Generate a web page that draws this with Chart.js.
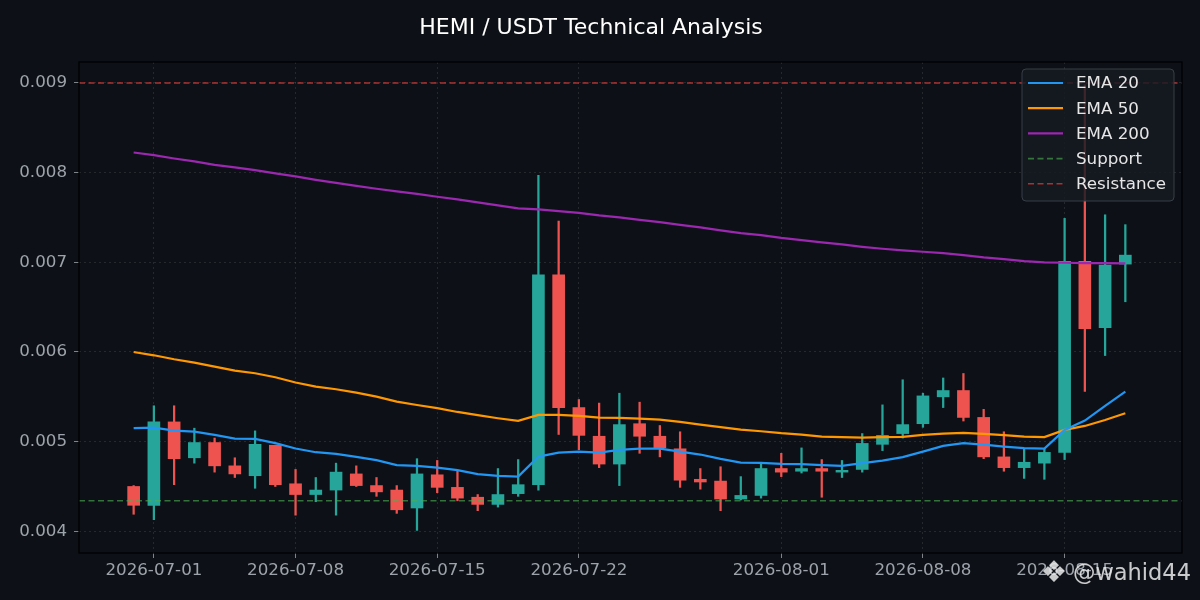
<!DOCTYPE html>
<html>
<head>
<meta charset="utf-8">
<script src="https://cdn.jsdelivr.net/npm/chart.js@4.4.1/dist/chart.umd.min.js"></script>
<style>
  html, body { margin: 0; padding: 0; background: #0d1117; }
  #chart { display: block; }
</style>
</head>
<body>
<canvas id="chart" width="1200" height="600"></canvas>
<script>
// daily candles, HEMI/USDT
const dates = [
  '2026-06-30','2026-07-01','2026-07-02','2026-07-03','2026-07-04','2026-07-05','2026-07-06','2026-07-07',
  '2026-07-08','2026-07-09','2026-07-10','2026-07-11','2026-07-12','2026-07-13','2026-07-14','2026-07-15',
  '2026-07-16','2026-07-17','2026-07-18','2026-07-19','2026-07-20','2026-07-21','2026-07-22','2026-07-23',
  '2026-07-24','2026-07-25','2026-07-26','2026-07-27','2026-07-28','2026-07-29','2026-07-30','2026-07-31',
  '2026-08-01','2026-08-02','2026-08-03','2026-08-04','2026-08-05','2026-08-06','2026-08-07','2026-08-08',
  '2026-08-09','2026-08-10','2026-08-11','2026-08-12','2026-08-13','2026-08-14','2026-08-15','2026-08-16',
  '2026-08-17','2026-08-18'
];
const opens = [
  0.00450,0.00429,0.00522,0.00482,0.00499,0.00473,0.00462,0.00496,0.00453,0.00441,
  0.00446,0.00464,0.00451,0.00446,0.00426,0.00463,0.00449,0.00438,0.00430,0.00442,
  0.00452,0.00686,0.00538,0.00506,0.00475,0.00520,0.00506,0.00492,0.00458,0.00456,
  0.00436,0.00440,0.00470,0.00467,0.00470,0.00466,0.00469,0.00497,0.00509,0.00520,
  0.00550,0.00557,0.00527,0.00483,0.00471,0.00476,0.00488,0.00701,0.00627,0.00698
];
const highs = [
  0.00451,0.00540,0.00540,0.00515,0.00504,0.00482,0.00512,0.00496,0.00469,0.00460,
  0.00476,0.00473,0.00460,0.00451,0.00481,0.00479,0.00467,0.00441,0.00470,0.00480,
  0.00797,0.00746,0.00547,0.00543,0.00554,0.00544,0.00518,0.00511,0.00470,0.00472,
  0.00461,0.00476,0.00487,0.00493,0.00480,0.00479,0.00509,0.00541,0.00569,0.00554,
  0.00571,0.00576,0.00536,0.00511,0.00492,0.00492,0.00749,0.00898,0.00753,0.00742
];
const lows = [
  0.00419,0.00413,0.00452,0.00476,0.00466,0.00460,0.00448,0.00450,0.00418,0.00433,
  0.00418,0.00450,0.00439,0.00420,0.00401,0.00443,0.00434,0.00423,0.00427,0.00439,
  0.00446,0.00508,0.00491,0.00471,0.00451,0.00487,0.00483,0.00449,0.00447,0.00423,
  0.00435,0.00437,0.00461,0.00465,0.00438,0.00460,0.00466,0.00490,0.00504,0.00516,
  0.00538,0.00523,0.00481,0.00467,0.00459,0.00458,0.00480,0.00556,0.00596,0.00656
];
const closes = [
  0.00429,0.00522,0.00481,0.00499,0.00473,0.00464,0.00497,0.00452,0.00441,0.00446,
  0.00466,0.00451,0.00444,0.00424,0.00464,0.00449,0.00437,0.00430,0.00441,0.00452,
  0.00686,0.00538,0.00507,0.00475,0.00519,0.00506,0.00493,0.00457,0.00455,0.00436,
  0.00440,0.00470,0.00466,0.00470,0.00467,0.00468,0.00498,0.00507,0.00519,0.00551,
  0.00557,0.00527,0.00483,0.00471,0.00477,0.00488,0.00701,0.00626,0.00697,0.00708
];
const ema20 = [
  0.005150,0.005157,0.005123,0.005112,0.005075,0.005034,0.005031,0.004983,0.004923,0.004882,
  0.004864,0.004830,0.004793,0.004738,0.004730,0.004711,0.004682,0.004637,0.004618,0.004611,
  0.004833,0.004878,0.004889,0.004878,0.004908,0.004923,0.004923,0.004889,0.004856,0.004808,
  0.004767,0.004763,0.004752,0.004749,0.004738,0.004730,0.004760,0.004789,0.004827,0.004889,
  0.004953,0.004983,0.004967,0.004945,0.004927,0.004923,0.005131,0.005235,0.005398,0.005558
];
const ema50 = [
  0.006000,0.005963,0.005919,0.005881,0.005836,0.005792,0.005763,0.005718,0.005660,0.005613,
  0.005584,0.005547,0.005502,0.005446,0.005409,0.005373,0.005331,0.005295,0.005261,0.005231,
  0.005298,0.005298,0.005287,0.005268,0.005265,0.005257,0.005246,0.005220,0.005190,0.005161,
  0.005134,0.005116,0.005094,0.005079,0.005056,0.005050,0.005045,0.005050,0.005053,0.005075,
  0.005090,0.005097,0.005086,0.005072,0.005056,0.005050,0.005131,0.005175,0.005242,0.005317
];
const ema200 = [
  0.008225,0.008195,0.008158,0.008125,0.008087,0.008058,0.008028,0.007991,0.007958,0.007920,
  0.007886,0.007853,0.007820,0.007791,0.007764,0.007731,0.007702,0.007668,0.007635,0.007601,
  0.007590,0.007571,0.007552,0.007523,0.007501,0.007474,0.007448,0.007418,0.007389,0.007356,
  0.007326,0.007304,0.007273,0.007248,0.007222,0.007200,0.007173,0.007151,0.007133,0.007118,
  0.007103,0.007081,0.007055,0.007036,0.007014,0.006999,0.006995,0.006992,0.006992,0.006988
];
const support = 0.00434;
const resistance = 0.0090;
const xTickLabels = ['2026-07-01','2026-07-08','2026-07-15','2026-07-22','2026-08-01','2026-08-08','2026-08-15'];
const yTickValues = [0.004, 0.005, 0.006, 0.007, 0.008, 0.009];

const UP = '#26a69a';
const DOWN = '#ef5350';
const TICK_COLOR = '#9da3aa';
const FONT = 'DejaVu Sans';

const X_MIN = -2.7, X_MAX = 51.8;
const Y_MIN = 0.003758, Y_MAX = 0.009234;

let candleColors = closes.map((c, i) => c >= opens[i] ? UP : DOWN);
let idx = dates.map((d, i) => i);

function lineSet(label, values, color) {
  return {
    type: 'line', label: label, order: 0,
    data: idx.map(i => ({x: i, y: values[i]})),
    borderColor: color, backgroundColor: color,
    borderWidth: 2.2, pointRadius: 0, tension: 0
  };
}
function levelSet(label, value, color) {
  return {
    type: 'line', label: label, order: 1,
    data: [{x: X_MIN, y: value}, {x: X_MAX, y: value}],
    borderColor: color, backgroundColor: color,
    borderWidth: 1.6, borderDash: [6, 3.5], pointRadius: 0
  };
}

// legend drawn by hand so it gets the dark box like the original
const legendBox = {
  id: 'legendBox',
  afterDatasetsDraw(chart) {
    const ctx = chart.ctx, area = chart.chartArea;
    const items = chart.data.datasets.filter(d => d.label);
    const w = 152, h = 132;
    const left = area.right - 8 - w, top = area.top + 7;
    ctx.save();
    ctx.beginPath();
    ctx.roundRect(left, top, w, h, 4);
    ctx.fillStyle = 'rgba(22,27,34,0.82)';
    ctx.fill();
    ctx.strokeStyle = 'rgba(60,66,74,0.9)';
    ctx.lineWidth = 1;
    ctx.stroke();
    ctx.font = '16.7px "' + FONT + '"';
    ctx.textBaseline = 'middle';
    items.forEach((d, k) => {
      const y = top + 14 + k * 25.2;
      ctx.beginPath();
      ctx.setLineDash(d.borderDash || []);
      ctx.strokeStyle = d.borderColor;
      ctx.lineWidth = d.borderDash ? 1.6 : 2.2;
      ctx.moveTo(left + 6, y);
      ctx.lineTo(left + 41, y);
      ctx.stroke();
      ctx.setLineDash([]);
      ctx.fillStyle = '#e6e6e6';
      ctx.fillText(d.label, left + 54, y + 1);
    });
    ctx.restore();
  },
  afterDraw(chart) {
    const ctx = chart.ctx, area = chart.chartArea;
    ctx.save();
    ctx.strokeStyle = '#000';
    ctx.lineWidth = 1.3;
    ctx.strokeRect(area.left, area.top, area.right - area.left, area.bottom - area.top);
    // watermark
    ctx.fillStyle = 'rgba(235,235,235,0.85)';
    ctx.textBaseline = 'middle';
    ctx.textAlign = 'right';
    ctx.font = '22.5px "' + FONT + '"';
    ctx.fillText('@wahid44', 1191, 574);
    ctx.textAlign = 'center';
    ctx.font = '30px "' + FONT + '"';
    ctx.fillText('\u2756', 1054, 574);
    ctx.restore();
  }
};

let ctx = document.getElementById('chart').getContext('2d');
let myChart = new Chart(ctx, {
  type: 'bar',
  data: {
    datasets: [
      lineSet('EMA 20', ema20, '#2196f3'),
      lineSet('EMA 50', ema50, '#ff9800'),
      lineSet('EMA 200', ema200, '#9c27b0'),
      levelSet('Support', support, 'rgba(76,175,80,0.62)'),
      levelSet('Resistance', resistance, 'rgba(229,57,53,0.75)'),
      {
        type: 'bar', order: 2, grouped: false,
        data: idx.map(i => ({x: i, y: [opens[i], closes[i]]})),
        backgroundColor: candleColors, barThickness: 12, minBarLength: 1.5, borderWidth: 0
      },
      {
        type: 'bar', order: 3, grouped: false,
        data: idx.map(i => ({x: i, y: [lows[i], highs[i]]})),
        backgroundColor: candleColors, barThickness: 1.6, borderWidth: 0
      }
    ]
  },
  options: {
    responsive: false,
    animation: false,
    devicePixelRatio: 1,
    layout: { padding: { left: 0, right: 18, top: 0, bottom: 0 } },
    plugins: {
      legend: { display: false },
      tooltip: { enabled: false },
      title: {
        display: true,
        text: 'HEMI / USDT Technical Analysis',
        color: '#ffffff',
        font: { family: FONT, size: 22, weight: 'normal', lineHeight: 1.2 },
        padding: { top: 15.5, bottom: 20.1 }
      }
    },
    scales: {
      x: {
        type: 'linear', min: X_MIN, max: X_MAX, offset: false,
        afterBuildTicks: scale => {
          scale.ticks = xTickLabels.map(l => ({ value: dates.indexOf(l) }));
        },
        afterFit: scale => { scale.height = 47; },
        ticks: {
          color: TICK_COLOR, font: { family: FONT, size: 16.7 }, padding: 3,
          maxRotation: 0, autoSkip: false,
          callback: v => dates[v]
        },
        grid: { offset: false, color: 'rgba(255,255,255,0.13)', tickColor: TICK_COLOR, tickLength: 5, lineWidth: 0.8 },
        border: { display: false, dash: [2, 3] }
      },
      y: {
        type: 'linear', min: Y_MIN, max: Y_MAX,
        afterBuildTicks: scale => {
          scale.ticks = yTickValues.map(v => ({ value: v }));
        },
        afterFit: scale => { scale.width = 79; },
        ticks: {
          color: TICK_COLOR, font: { family: FONT, size: 16.7 }, padding: 7,
          callback: v => v.toFixed(3)
        },
        grid: { color: 'rgba(255,255,255,0.13)', tickColor: TICK_COLOR, tickLength: 5, lineWidth: 0.8 },
        border: { display: false, dash: [2, 3] }
      }
    }
  },
  plugins: [legendBox]
});
</script>
</body>
</html>
